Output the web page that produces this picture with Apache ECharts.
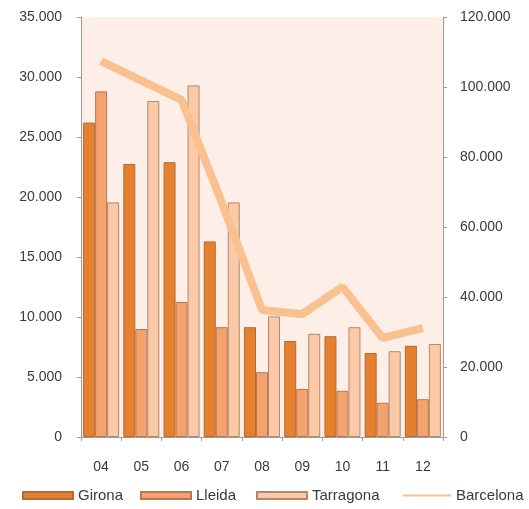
<!DOCTYPE html>
<html>
<head>
<meta charset="utf-8">
<script src="https://cdn.jsdelivr.net/npm/echarts@6/dist/echarts.min.js"></script>
<style>
  html, body { margin: 0; padding: 0; background: #fff; }
  #chart { width: 529px; height: 509px; }
</style>
</head>
<body>
<div id="chart"></div>
<script>
// Years (two-digit) on the category axis
const years = ['04', '05', '06', '07', '08', '09', '10', '11', '12'];

// Bars on the left axis
const girona    = [26200, 22750, 22900, 16300, 9150, 8000, 8400, 7000, 7600];
const lleida    = [28800, 9000, 11250, 9150, 5400, 4000, 3850, 2850, 3150];
const tarragona = [19550, 28000, 29300, 19550, 10050, 8600, 9150, 7150, 7750];

// Line on the right axis
const barcelona = [107400, 101800, 96300, 67000, 36300, 35100, 42900, 28300, 31100];

// Axis ranges and steps
const leftMax = 35000, leftStep = 5000;
const rightMax = 120000, rightStep = 20000;

const fmt = v => v === 0 ? '0' : String(v).replace(/\B(?=(\d{3})+(?!\d))/g, '.');

const font = '"Liberation Sans", Arial, sans-serif';
const axisGray = '#a49a92';
const labelColor = '#3a3a3a';

// One legend block per series so each entry sits at its own x position
const legendText = { fontFamily: font, fontSize: 15, color: labelColor };
function legendAt(left, item, width) {
  return {
    bottom: 1, left: left,
    itemWidth: width, itemHeight: 7,
    textStyle: legendText,
    data: [item]
  };
}

const chart = echarts.init(document.getElementById('chart'), null, { renderer: 'canvas' });

chart.setOption({
  animation: false,
  textStyle: { fontFamily: font },
  grid: {
    left: 81, right: 86, top: 17, bottom: 72,
    show: true, backgroundColor: '#fdeee8', borderWidth: 0
  },
  legend: [
    legendAt(17, { name: 'Girona', icon: 'rect' }, 50),
    legendAt(135, { name: 'Lleida', icon: 'rect' }, 50),
    legendAt(251, { name: 'Tarragona', icon: 'rect' }, 50),
    legendAt(397, { name: 'Barcelona', lineStyle: { width: 2 }, itemStyle: { opacity: 0 } }, 48)
  ],
  xAxis: {
    type: 'category',
    data: years,
    axisLine: { lineStyle: { color: axisGray } },
    axisTick: { show: true, alignWithLabel: false, length: 4, lineStyle: { color: axisGray } },
    axisLabel: { fontFamily: font, fontSize: 14, color: labelColor, margin: 23 }
  },
  yAxis: [
    {
      type: 'value', min: 0, max: leftMax, interval: leftStep,
      axisLine: { show: true, lineStyle: { color: axisGray } },
      axisTick: { show: true, inside: false, length: 4, lineStyle: { color: axisGray } },
      splitLine: { show: false },
      axisLabel: { fontFamily: font, fontSize: 14, color: labelColor, margin: 19, formatter: fmt }
    },
    {
      type: 'value', min: 0, max: rightMax, interval: rightStep, position: 'right',
      axisLine: { show: true, lineStyle: { color: axisGray } },
      axisTick: { show: true, length: 4, lineStyle: { color: axisGray } },
      splitLine: { show: false },
      axisLabel: { fontFamily: font, fontSize: 14, color: labelColor, margin: 17, formatter: fmt }
    }
  ],
  series: [
    {
      name: 'Girona', type: 'bar', data: girona, yAxisIndex: 0,
      barWidth: 12, barGap: '0%', barCategoryGap: '10%',
      itemStyle: { color: '#e5802e', borderColor: '#b46a35', borderWidth: 1 }
    },
    {
      name: 'Lleida', type: 'bar', data: lleida, yAxisIndex: 0,
      barWidth: 12, barGap: '0%',
      itemStyle: { color: '#f4a36c', borderColor: '#b07a58', borderWidth: 1 }
    },
    {
      name: 'Tarragona', type: 'bar', data: tarragona, yAxisIndex: 0,
      barWidth: 12, barGap: '0%',
      itemStyle: { color: '#fbc9a6', borderColor: '#b08a70', borderWidth: 1 }
    },
    {
      name: 'Barcelona', type: 'line', data: barcelona, yAxisIndex: 1,
      showSymbol: false, symbol: 'none', z: 5,
      lineStyle: { color: '#f9c090', width: 8 },
      itemStyle: { color: '#f9c090' }
    }
  ]
});
</script>
</body>
</html>
